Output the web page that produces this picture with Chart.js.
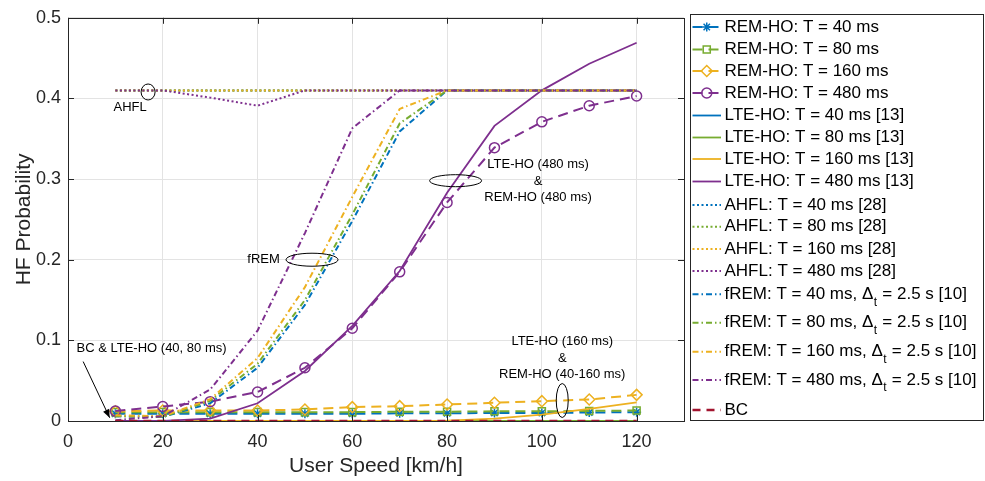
<!DOCTYPE html>
<html><head><meta charset="utf-8">
<script src="https://cdn.jsdelivr.net/npm/chart.js@4/dist/chart.umd.min.js"></script>
<style>html,body{margin:0;padding:0;background:#fff;overflow:hidden}canvas{display:block}</style>
</head><body>
<canvas id="c" width="985" height="481"></canvas>
<script>
// ---------- DATA ----------
const speeds = [10, 20, 30, 40, 50, 60, 70, 80, 90, 100, 110, 120];
const xTickValues = [0, 20, 40, 60, 80, 100, 120];
const yTickValues = [0, 0.1, 0.2, 0.3, 0.4, 0.5];

const remHo40  = [0.009, 0.009, 0.009, 0.009, 0.009, 0.009, 0.0095, 0.0095, 0.010, 0.010, 0.0105, 0.011];
const remHo80  = [0.011, 0.011, 0.011, 0.011, 0.011, 0.011, 0.0115, 0.0115, 0.012, 0.012, 0.0125, 0.013];
const remHo160 = [0.012, 0.013, 0.013, 0.013, 0.0143, 0.0172, 0.0184, 0.0205, 0.0226, 0.0246, 0.0267, 0.0324];
const remHo480 = [0.0123, 0.018, 0.024, 0.036, 0.066, 0.115, 0.185, 0.271, 0.339, 0.371, 0.391, 0.403];

const lteHo40  = [0, 0, 0, 0, 0, 0, 0, 0, 0, 0, 0, 0];
const lteHo80  = [0, 0, 0, 0, 0, 0, 0, 0, 0, 0, 0, 0];
const lteHo160 = [0, 0, 0, 0, 0, 0, 0, 0.0005, 0.003, 0.008, 0.015, 0.023];
const lteHo480 = [0, 0, 0.003, 0.022, 0.062, 0.118, 0.186, 0.283, 0.366, 0.41, 0.443, 0.469];

const ahfl40  = [0.41, 0.41, 0.41, 0.41, 0.41, 0.41, 0.41, 0.41, 0.41, 0.41, 0.41, 0.41];
const ahfl80  = [0.41, 0.41, 0.41, 0.41, 0.41, 0.41, 0.41, 0.41, 0.41, 0.41, 0.41, 0.41];
const ahfl160 = [0.41, 0.41, 0.41, 0.41, 0.41, 0.41, 0.41, 0.41, 0.41, 0.41, 0.41, 0.41];
const ahfl480 = [0.41, 0.41, 0.401, 0.391, 0.41, 0.41, 0.41, 0.41, 0.41, 0.41, 0.41, 0.41];

const frem40  = [0.006, 0.005, 0.022, 0.066, 0.144, 0.248, 0.359, 0.41, 0.41, 0.41, 0.41, 0.41];
const frem80  = [0.006, 0.005, 0.025, 0.071, 0.150, 0.256, 0.369, 0.41, 0.41, 0.41, 0.41, 0.41];
const frem160 = [0.007, 0.006, 0.027, 0.078, 0.166, 0.278, 0.387, 0.41, 0.41, 0.41, 0.41, 0.41];
const frem480 = [0.001, 0.006, 0.039, 0.112, 0.233, 0.363, 0.41, 0.41, 0.41, 0.41, 0.41, 0.41];

const bc = [0, 0, 0, 0, 0, 0, 0, 0, 0, 0, 0, 0];

const seriesLabels = [
  'REM-HO: T = 40 ms', 'REM-HO: T = 80 ms', 'REM-HO: T = 160 ms', 'REM-HO: T = 480 ms',
  'LTE-HO: T = 40 ms [13]', 'LTE-HO: T = 80 ms [13]', 'LTE-HO: T = 160 ms [13]', 'LTE-HO: T = 480 ms [13]',
  'AHFL: T = 40 ms [28]', 'AHFL: T = 80 ms [28]', 'AHFL: T = 160 ms [28]', 'AHFL: T = 480 ms [28]',
  'fREM: T = 40 ms, Δ_t = 2.5 s [10]', 'fREM: T = 80 ms, Δ_t = 2.5 s [10]',
  'fREM: T = 160 ms, Δ_t = 2.5 s [10]', 'fREM: T = 480 ms, Δ_t = 2.5 s [10]',
  'BC'
];
const seriesValues = [remHo40, remHo80, remHo160, remHo480, lteHo40, lteHo80, lteHo160, lteHo480,
  ahfl40, ahfl80, ahfl160, ahfl480, frem40, frem80, frem160, frem480, bc];

// ---------- STYLES ----------
const FONT = '"Liberation Sans", Arial, Helvetica, sans-serif';
const BLUE = '#0072BD', GREEN = '#77AC30', YELLOW = '#EDB120', PURPLE = '#7E2F8E', RED = '#A2142F';
const pal = [BLUE, GREEN, YELLOW, PURPLE];
const DASH = [10, 6], DOT = [2, 2.5], DASHDOT = [6, 3, 1.5, 3], BCDASH = [8, 6];
const markers = ['star', 'rect', 'rectRot', 'circle'];
const markerRadius = [4.5, 5, 5.5, 5];

function styleFor(i) {
  if (i < 4) return {color: pal[i], dash: DASH, width: 2, marker: markers[i], radius: markerRadius[i]};
  if (i < 8) return {color: pal[i - 4], dash: [], width: 1.8};
  if (i < 12) return {color: pal[i - 8], dash: DOT, width: 2};
  if (i < 16) return {color: pal[i - 12], dash: DASHDOT, width: 2};
  return {color: RED, dash: BCDASH, width: 2.5};
}

const datasets = seriesValues.map((vals, i) => {
  const s = styleFor(i);
  return {
    label: seriesLabels[i],
    data: vals.map((v, k) => ({x: speeds[k], y: v})),
    borderColor: s.color,
    borderWidth: s.width,
    borderDash: s.dash,
    fill: false,
    tension: 0,
    pointStyle: s.marker || 'circle',
    pointRadius: s.marker ? s.radius : 0,
    pointHoverRadius: s.marker ? s.radius : 0,
    pointBorderColor: s.color,
    pointBackgroundColor: 'rgba(0,0,0,0)',
    pointBorderWidth: 1.5,
    order: 20 - i
  };
});

// ---------- PLUGINS ----------
const axisBox = {
  id: 'axisBox',
  afterDatasetsDraw(chart) {
    const {ctx, chartArea: a, scales: {x, y}} = chart;
    ctx.save();
    ctx.strokeStyle = '#262626';
    ctx.lineWidth = 1;
    ctx.setLineDash([]);
    ctx.strokeRect(Math.round(a.left) + 0.5, Math.round(a.top) + 0.5,
      Math.round(a.right - a.left), Math.round(a.bottom - a.top));
    const L = 6;
    ctx.beginPath();
    xTickValues.forEach(v => {
      const px = Math.round(x.getPixelForValue(v)) + 0.5;
      ctx.moveTo(px, a.bottom); ctx.lineTo(px, a.bottom - L);
      ctx.moveTo(px, a.top); ctx.lineTo(px, a.top + L);
    });
    yTickValues.forEach(v => {
      const py = Math.round(y.getPixelForValue(v)) + 0.5;
      ctx.moveTo(a.left, py); ctx.lineTo(a.left + L, py);
      ctx.moveTo(a.right, py); ctx.lineTo(a.right - L, py);
    });
    ctx.stroke();
    ctx.restore();
  }
};

// annotation positions in data units
const notes = {
  ellipses: [
    {x: 16.9, y: 0.408, rx: 7, ry: 8},
    {x: 51.5, y: 0.2, rx: 26, ry: 6.5},
    {x: 81.8, y: 0.298, rx: 26, ry: 6},
    {x: 104.3, y: 0.0254, rx: 6, ry: 17}
  ],
  texts: [
    {x: 13.1, y: 0.389, text: 'AHFL', align: 'center'},
    {x: 44.7, y: 0.2005, text: 'fREM', align: 'right'},
    {x: 99.2, y: 0.318, text: 'LTE-HO (480 ms)', align: 'center'},
    {x: 99.2, y: 0.297, text: '&', align: 'center'},
    {x: 99.2, y: 0.277, text: 'REM-HO (480 ms)', align: 'center'},
    {x: 1.8, y: 0.0897, text: 'BC & LTE-HO (40, 80 ms)', align: 'left'},
    {x: 104.3, y: 0.0991, text: 'LTE-HO (160 ms)', align: 'center'},
    {x: 104.3, y: 0.0779, text: '&', align: 'center'},
    {x: 104.3, y: 0.0582, text: 'REM-HO (40-160 ms)', align: 'center'}
  ],
  arrow: {x1: 3.2, y1: 0.0737, x2: 8.8, y2: 0.004}
};

const annotate = {
  id: 'annotate',
  afterDatasetsDraw(chart) {
    const {ctx, scales: {x, y}} = chart;
    ctx.save();
    ctx.setLineDash([]);
    ctx.strokeStyle = '#000';
    ctx.fillStyle = '#000';
    ctx.lineWidth = 1;
    notes.ellipses.forEach(e => {
      ctx.beginPath();
      ctx.ellipse(x.getPixelForValue(e.x), y.getPixelForValue(e.y), e.rx, e.ry, 0, 0, Math.PI * 2);
      ctx.stroke();
    });
    ctx.font = '13px ' + FONT;
    ctx.textBaseline = 'middle';
    notes.texts.forEach(t => {
      ctx.textAlign = t.align;
      ctx.fillText(t.text, x.getPixelForValue(t.x), y.getPixelForValue(t.y));
    });
    const ar = notes.arrow;
    const x1 = x.getPixelForValue(ar.x1), y1 = y.getPixelForValue(ar.y1);
    const x2 = x.getPixelForValue(ar.x2), y2 = y.getPixelForValue(ar.y2);
    ctx.beginPath(); ctx.moveTo(x1, y1); ctx.lineTo(x2, y2); ctx.stroke();
    const ang = Math.atan2(y2 - y1, x2 - x1), hl = 9, hw = 0.38;
    ctx.beginPath();
    ctx.moveTo(x2, y2);
    ctx.lineTo(x2 - hl * Math.cos(ang - hw), y2 - hl * Math.sin(ang - hw));
    ctx.lineTo(x2 - hl * Math.cos(ang + hw), y2 - hl * Math.sin(ang + hw));
    ctx.closePath(); ctx.fill();
    ctx.restore();
  }
};

const legendRowY = [27, 49.5, 71, 93, 115.5, 137.5, 159, 181.5, 205, 226.7, 249, 271, 294.3, 322.7, 351.7, 380, 410];

function drawMarker(ctx, type, cx, cy, r) {
  ctx.beginPath();
  if (type === 'circle') ctx.arc(cx, cy, r, 0, Math.PI * 2);
  else if (type === 'rect') { const s = r * Math.SQRT1_2; ctx.rect(cx - s, cy - s, 2 * s, 2 * s); }
  else if (type === 'rectRot') { ctx.moveTo(cx - r, cy); ctx.lineTo(cx, cy - r); ctx.lineTo(cx + r, cy); ctx.lineTo(cx, cy + r); ctx.closePath(); }
  else if (type === 'star') {
    for (let k = 0; k < 4; k++) {
      const a = k * Math.PI / 4;
      ctx.moveTo(cx - r * Math.cos(a), cy - r * Math.sin(a));
      ctx.lineTo(cx + r * Math.cos(a), cy + r * Math.sin(a));
    }
  }
  ctx.stroke();
}

const customLegend = {
  id: 'customLegend',
  afterDraw(chart) {
    const ctx = chart.ctx;
    const bx = 690.5, by = 14.5, bw = 293, bh = 406;
    ctx.save();
    ctx.fillStyle = '#fff';
    ctx.fillRect(bx, by, bw, bh);
    ctx.strokeStyle = '#262626';
    ctx.lineWidth = 1;
    ctx.setLineDash([]);
    ctx.strokeRect(bx, by, bw, bh);
    const x0 = 692.5, x1 = 721, tx = 724.5;
    chart.data.datasets.forEach((ds, i) => {
      const s = styleFor(i);
      const yy = legendRowY[i];
      ctx.strokeStyle = s.color;
      ctx.lineWidth = s.width;
      ctx.setLineDash(s.dash);
      ctx.beginPath(); ctx.moveTo(x0, yy); ctx.lineTo(x1, yy); ctx.stroke();
      if (s.marker) {
        ctx.setLineDash([]);
        ctx.lineWidth = 1.5;
        ctx.fillStyle = '#fff';
        drawMarker(ctx, s.marker, (x0 + x1) / 2, yy, s.radius);
      }
      ctx.setLineDash([]);
      ctx.fillStyle = '#000';
      ctx.textAlign = 'left';
      ctx.textBaseline = 'middle';
      const parts = ds.label.split('_t');
      ctx.font = '17px ' + FONT;
      if (parts.length === 2) {
        ctx.fillText(parts[0], tx, yy);
        let cx = tx + ctx.measureText(parts[0]).width;
        ctx.font = '12px ' + FONT;
        ctx.fillText('t', cx + 0.5, yy + 8);
        cx += ctx.measureText('t').width + 1;
        ctx.font = '17px ' + FONT;
        ctx.fillText(parts[1], cx, yy);
      } else {
        ctx.fillText(ds.label, tx, yy);
      }
    });
    ctx.restore();
  }
};

// ---------- CHART ----------
new Chart(document.getElementById('c'), {
  type: 'line',
  data: {datasets},
  options: {
    responsive: false,
    animation: false,
    devicePixelRatio: 1,
    layout: {padding: {left: 0, right: 301, top: 14, bottom: 0}},
    plugins: {legend: {display: false}, tooltip: {enabled: false}},
    events: [],
    scales: {
      x: {
        type: 'linear', min: 0, max: 130,
        afterBuildTicks: s => { s.ticks = xTickValues.map(v => ({value: v})); },
        afterFit: s => { s.height = 60; },
        ticks: {stepSize: 20, autoSkip: false, maxRotation: 0, color: '#262626', padding: 10,
          font: {family: FONT, size: 18}},
        grid: {color: '#e3e3e3', lineWidth: 1, drawTicks: false},
        border: {display: false},
        title: {display: true, text: 'User Speed [km/h]', color: '#262626',
          font: {family: FONT, size: 21}, padding: {top: 0, bottom: 2}}
      },
      y: {
        type: 'linear', min: 0, max: 0.5,
        afterBuildTicks: s => { s.ticks = yTickValues.map(v => ({value: v})); },
        afterFit: s => { s.width = 68; },
        ticks: {stepSize: 0.1, autoSkip: false, color: '#262626', padding: 7,
          font: {family: FONT, size: 18}},
        grid: {color: '#e3e3e3', lineWidth: 1, drawTicks: false},
        border: {display: false},
        title: {display: true, text: 'HF Probability', color: '#262626',
          font: {family: FONT, size: 21}, padding: {top: 12, bottom: 0}}
      }
    }
  },
  plugins: [axisBox, annotate, customLegend]
});
</script>
</body></html>
